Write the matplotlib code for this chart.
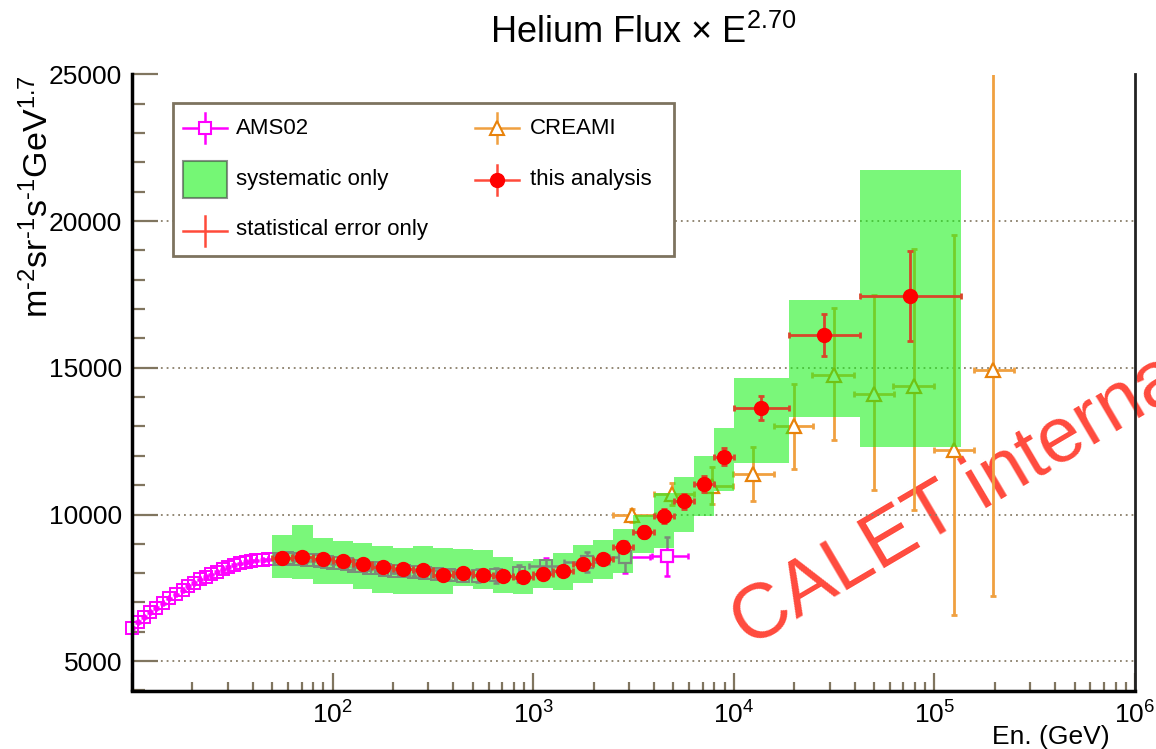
import numpy as np
import matplotlib
matplotlib.use('Agg')
import matplotlib.pyplot as plt
from matplotlib.patches import Rectangle
from matplotlib.lines import Line2D
from matplotlib.ticker import LogLocator, MultipleLocator, NullFormatter, FuncFormatter

plt.rcParams['font.family'] = ['Liberation Sans', 'DejaVu Sans']
plt.rcParams['mathtext.fontset'] = 'custom'
plt.rcParams['mathtext.rm'] = 'Liberation Sans'
plt.rcParams['mathtext.it'] = 'Liberation Sans:italic'
plt.rcParams['mathtext.bf'] = 'Liberation Sans:bold'

## AMS02 helium (flux x E^2.7)
ams_e = [10.0, 10.75, 11.5, 12.3, 13.2, 14.2, 15.3, 16.6, 17.9, 19.1, 20.4, 21.8,
         23.4, 24.9, 26.4, 28.3, 30.2, 32.3, 34.5, 36.9, 39.4, 41.7, 44.8, 47.7,
         51.5, 55.5, 59.5, 64, 69, 74.5, 80, 86.5, 93.5, 101, 109, 118, 128, 139,
         152, 166, 183, 203, 227, 255, 288, 330, 382, 447, 533, 655, 850, 1160,
         1850, 2860, 4630]
ams_flux = [6138, 6329, 6513, 6670, 6820, 6967, 7137, 7273, 7410, 7556, 7672, 7785,
            7877, 7955, 8033, 8125, 8217, 8272, 8330, 8374, 8408, 8432, 8442, 8466,
            8480, 8490, 8500, 8490, 8480, 8460, 8440, 8420, 8390, 8360, 8330, 8300,
            8260, 8230, 8190, 8160, 8120, 8090, 8060, 8030, 8000, 7970, 7940, 7920,
            7910, 7930, 7990, 8250, 8380, 8540, 8580]
ams_ferr = [25, 25, 25, 25, 25, 25, 25, 25, 25, 25, 25, 25,
            25, 25, 25, 25, 25, 25, 25, 25, 25, 25, 25, 25,
            30, 30, 30, 35, 35, 40, 40, 45, 45, 50, 55, 60, 65, 70,
            75, 80, 90, 100, 110, 120, 130, 150, 170, 190, 220, 260, 300, 260,
            350, 540, 665]
# energy bins only resolved for the last points
ams_tail_elo = [950, 1420, 2380, 3900]
ams_tail_ehi = [1420, 2380, 3800, 5900]

## CREAM
cream_e = [3120, 4900, 7770, 12480, 19860, 31500, 49800, 78700, 125000, 197000]
cream_flux = [9966, 10682, 10988, 11397, 13010, 14772, 14124, 14397, 12215, 14918]
cream_err_hi = [230, 375, 615, 910, 1455, 2273, 3350, 4669, 7318, 12000]
cream_err_lo = [230, 375, 615, 920, 1442, 2216, 3272, 4227, 5657, 7703]
cream_e_lo = [2500, 4000, 6740, 9950, 15800, 24600, 39600, 62500, 99000, 157000]
cream_e_hi = [4040, 6300, 9880, 15800, 24900, 39800, 62900, 99600, 158000, 248000]

## this analysis
calet_edges = [50.1, 63.1, 79.4, 100, 126, 158, 200, 251, 316, 398, 501, 631, 794,
               1000, 1259, 1585, 1995, 2512, 3162, 3981, 5012, 6310, 7943, 10000,
               18800, 42400, 136000]
calet_flux = [8517, 8545, 8466, 8422, 8320, 8204, 8125, 8108, 7931, 7989, 7921, 7897,
              7877, 7955, 8074, 8323, 8466, 8899, 9397, 9949, 10453, 11033, 11977,
              13637, 16111, 17440]
calet_stat = [40, 40, 45, 50, 55, 60, 70, 80, 90, 100, 110, 120, 130, 140, 150, 160,
              170, 190, 210, 230, 250, 280, 300, 400, 720, 1530]
calet_sys_hi = [9318, 9659, 9206, 9090, 9035, 8920, 8865, 8920, 8865, 8831, 8783, 8558,
                8408, 8490, 8695, 8977, 9124, 9513, 10000, 10740, 11285, 11987, 12955,
                14659, 17328, 21735]
calet_sys_lo = [7843, 7785, 7614, 7614, 7444, 7331, 7273, 7273, 7273, 7556, 7444, 7331,
                7273, 7502, 7420, 7672, 7785, 8013, 8695, 8865, 9397, 9942, 10794,
                11762, 13330, 12307]

W, H = 1156, 749
C_AMS = '#ff00ff'
C_CREAM = '#f0a040'
C_CREAM_M = '#e8820a'
C_BAND = (0.1, 0.95, 0.1)
BAND_ALPHA = 0.58
C_STAT = '#d8462a'
C_TICK = '#80755f'


def fx(x):
    return x / W


def fy(y):
    return 1 - y / H


fig = plt.figure(figsize=(W / 100, H / 100), dpi=100)
fig.patch.set_facecolor('white')
ax = fig.add_axes([fx(132), fy(690.5), fx(1135) - fx(132), fy(74.5) - fy(690.5)])
ax.patch.set_alpha(0)
ax.set_xscale('log')
ax.set_xlim(10, 1e6)
ax.set_ylim(4000, 25000)

## AMS02
ams_e = np.array(ams_e, dtype=float)
ams_flux = np.array(ams_flux, dtype=float)
ams_ferr = np.array(ams_ferr, dtype=float)
n_tail = len(ams_tail_elo)
xlo = np.zeros_like(ams_e)
xhi = np.zeros_like(ams_e)
xlo[-n_tail:] = ams_e[-n_tail:] - np.array(ams_tail_elo)
xhi[-n_tail:] = np.array(ams_tail_ehi) - ams_e[-n_tail:]
ax.errorbar(ams_e, ams_flux, xerr=[xlo, xhi], yerr=ams_ferr, fmt='none',
            ecolor=C_AMS, elinewidth=1.8, capsize=2, capthick=1.8, zorder=2)
big = ams_ferr > 300
ax.plot(ams_e[big], ams_flux[big], 's', ms=9, mfc='white', mec=C_AMS, mew=1.6, zorder=2)
ax.plot(ams_e, ams_flux, 's', ms=8.5, mfc='none', mec=C_AMS, mew=1.4, zorder=2,
        clip_on=False)

## CREAM
cream_e = np.array(cream_e, dtype=float)
ax.errorbar(cream_e, cream_flux,
            xerr=[cream_e - np.array(cream_e_lo), np.array(cream_e_hi) - cream_e],
            yerr=[cream_err_lo, cream_err_hi], fmt='none', ecolor=C_CREAM,
            elinewidth=2, capsize=2, capthick=2, zorder=2)
ax.plot(cream_e, cream_flux, '^', ms=10, mfc='white', mec=C_CREAM_M, mew=1.6, zorder=2)

## this analysis: systematic band, stat error bars, points
edges = np.array(calet_edges, dtype=float)
e_lo, e_hi = edges[:-1], edges[1:]
calet_e = np.sqrt(e_lo * e_hi)
sys_lo = np.array(calet_sys_lo, dtype=float)
sys_hi = np.array(calet_sys_hi, dtype=float)
ax.bar(e_lo, sys_hi - sys_lo, width=e_hi - e_lo, bottom=sys_lo, align='edge',
       color=C_BAND, alpha=BAND_ALPHA, linewidth=0, zorder=3)
ax.errorbar(calet_e, calet_flux, xerr=[calet_e - e_lo, e_hi - calet_e], yerr=calet_stat,
            fmt='none', ecolor=C_STAT, elinewidth=2, capsize=2, capthick=2, zorder=4)
ax.plot(calet_e, calet_flux, 'o', ms=10, color='red', mec='red', zorder=5)

## axes style
ax.yaxis.grid(True, which='major', linestyle=(0, (1, 2.2)), color='#8a7f6a', lw=1.3, zorder=1)
ax.set_axisbelow(True)
ax.spines['top'].set_visible(False)
ax.spines['left'].set_linewidth(2.5)
ax.spines['bottom'].set_linewidth(2.5)
ax.spines['right'].set_linewidth(2)
ax.spines['right'].set_color('#222222')

ax.xaxis.set_major_locator(LogLocator(base=10, numticks=10))
ax.xaxis.set_minor_locator(LogLocator(base=10, subs=np.arange(2, 10), numticks=40))
ax.xaxis.set_minor_formatter(NullFormatter())
ax.xaxis.set_major_formatter(FuncFormatter(
    lambda v, _: '' if v < 50 else '$10^{%d}$' % int(round(np.log10(v)))))
ax.yaxis.set_major_locator(MultipleLocator(5000))
ax.yaxis.set_minor_locator(MultipleLocator(1000))

ax.tick_params(axis='x', which='major', direction='in', length=13, width=1.6,
               color=C_TICK, pad=8, labelsize=19)
ax.tick_params(axis='x', which='minor', direction='in', length=6.5, width=1.6, color=C_TICK)
ax.tick_params(axis='y', which='major', direction='in', length=19, width=1.6,
               color=C_TICK, pad=7, labelsize=19)
ax.tick_params(axis='y', which='minor', direction='in', length=9.5, width=1.6, color=C_TICK)
ax.tick_params(top=False, right=False, which='both')

## texts
fig.text(fx(643), fy(33), 'Helium Flux × E$^{2.70}$', ha='center', va='center', fontsize=26)
fig.text(fx(38), fy(75), r'm$^{\text{-}2}$sr$^{\text{-}1}$s$^{\text{-}1}$GeV$^{1.7}$',
         rotation=90, ha='center', va='top', fontsize=24.5)
fig.text(fx(1110), fy(737), 'En. (GeV)', ha='right', va='center', fontsize=19)
fig.text(fx(748), fy(648), 'CALET internal', rotation=30.5, rotation_mode='anchor',
         ha='left', va='baseline', fontsize=56, color='#ff4a3d', zorder=-1)

## legend, drawn by hand
fig.add_artist(Rectangle((fx(173), fy(256)), fx(674) - fx(173), fy(103) - fy(256),
                         transform=fig.transFigure, facecolor='white',
                         edgecolor='#7d735f', lw=2, zorder=10))


def legend_cross(xc, yc, color, lw=1.8):
    fig.add_artist(Line2D([fx(xc - 22), fx(xc + 22)], [fy(yc), fy(yc)],
                          transform=fig.transFigure, color=color, lw=lw, zorder=11))
    fig.add_artist(Line2D([fx(xc), fx(xc)], [fy(yc - 15), fy(yc + 15)],
                          transform=fig.transFigure, color=color, lw=lw, zorder=11))


def legend_marker(xc, yc, **kw):
    fig.add_artist(Line2D([fx(xc)], [fy(yc)], transform=fig.transFigure, zorder=12, **kw))


legend_cross(205, 128, C_AMS)
legend_marker(205, 128, marker='s', ms=8.5, mfc='white', mec=C_AMS, mew=1.5)
fig.add_artist(Rectangle((fx(183), fy(198)), fx(227) - fx(183), fy(161) - fy(198),
                         transform=fig.transFigure, facecolor=C_BAND, alpha=0.6,
                         edgecolor='#444444', lw=1.5, zorder=11))
legend_cross(205, 231, '#ff4a3a')
legend_cross(497, 128, C_CREAM)
legend_marker(497, 128, marker='^', ms=10, mfc='white', mec=C_CREAM_M, mew=1.5)
legend_cross(497, 180, '#ff4a3a')
legend_marker(497, 180, marker='o', ms=10, color='red')

for x, y, s in [(236, 128, 'AMS02'), (236, 179, 'systematic only'),
                (236, 230, 'statistical error only'), (530, 128, 'CREAMI'),
                (530, 179, 'this analysis')]:
    fig.text(fx(x), fy(y), s, ha='left', va='center', fontsize=16, zorder=12)

fig.savefig('out.png', dpi=100, facecolor='white')
